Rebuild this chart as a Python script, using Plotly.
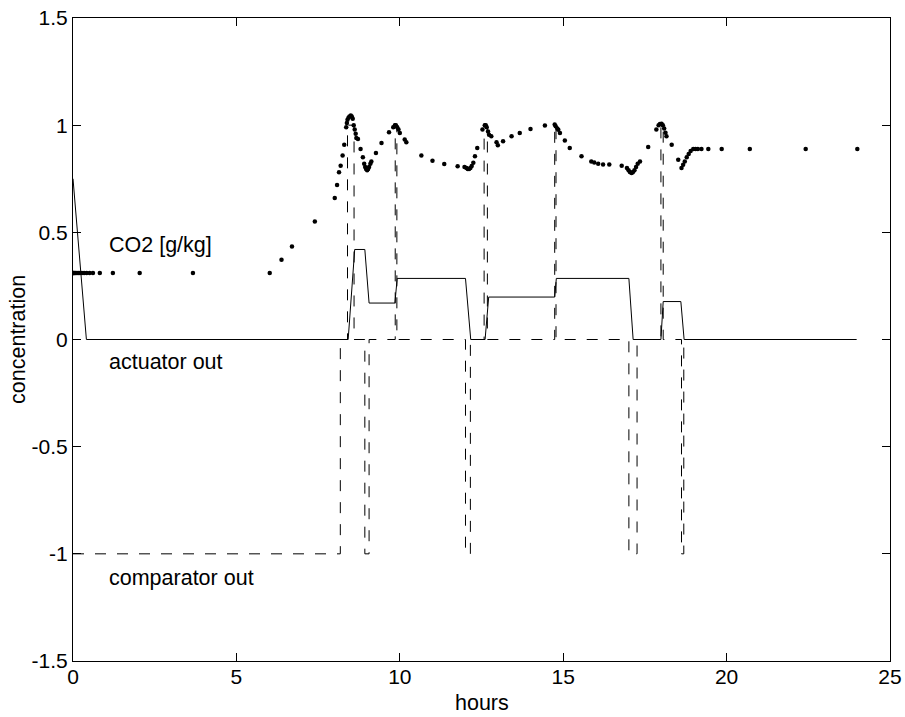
"""CO2 controller simulation: concentration, actuator and comparator output over a day."""

import plotly.graph_objects as go

# CO2 concentration samples [g/kg] (dotted trace)
co2_hours = [
    0.0, 0.02, 0.05, 0.08, 0.12, 0.16, 0.21, 0.27, 0.34, 0.42, 0.51, 0.61,
    0.82, 1.22, 2.04, 3.67, 6.02, 6.38, 6.70, 7.40, 8.01, 8.08, 8.14, 8.19,
    8.25, 8.30, 8.36, 8.38, 8.40, 8.43, 8.46, 8.50, 8.53, 8.56, 8.59, 8.62,
    8.65, 8.67, 8.72, 8.80, 8.87, 8.91, 8.94, 8.97, 9.00, 9.03, 9.06, 9.10,
    9.13, 9.27, 9.44, 9.67, 9.80, 9.85, 9.88, 9.92, 9.96, 10.00, 10.15, 10.20,
    10.66, 11.00, 11.36, 11.77, 11.98, 12.04, 12.08, 12.12, 12.16, 12.20, 12.25, 12.30,
    12.37, 12.53, 12.60, 12.63, 12.66, 12.70, 12.73, 12.80, 12.96, 13.00, 13.16, 13.42,
    13.67, 14.00, 14.44, 14.74, 14.77, 14.82, 14.85, 14.90, 15.05, 15.20, 15.56, 15.86,
    15.95, 16.07, 16.22, 16.41, 16.79, 16.95, 17.00, 17.04, 17.09, 17.13, 17.18, 17.23,
    17.28, 17.35, 17.60, 17.85, 17.92, 17.96, 18.01, 18.05, 18.09, 18.13, 18.16, 18.32,
    18.52, 18.62, 18.67, 18.72, 18.78, 18.84, 18.90, 18.98, 19.05, 19.12, 19.23, 19.44,
    19.85, 20.71, 22.42, 24.00,
]
co2_values = [
    0.31, 0.31, 0.31, 0.31, 0.31, 0.31, 0.31, 0.31, 0.31, 0.31, 0.31, 0.31,
    0.31, 0.31, 0.31, 0.31, 0.31, 0.372, 0.434, 0.551, 0.660, 0.721, 0.780, 0.811,
    0.859, 0.909, 0.99, 1.01, 1.025, 1.035, 1.04, 1.045, 1.04, 1.03, 1.00, 0.98,
    0.96, 0.94, 0.935, 0.889, 0.85, 0.82, 0.805, 0.795, 0.79, 0.795, 0.805, 0.82,
    0.83, 0.87, 0.917, 0.967, 0.99, 1.00, 1.00, 0.99, 0.98, 0.964, 0.933, 0.92,
    0.858, 0.834, 0.819, 0.808, 0.805, 0.80, 0.795, 0.795, 0.80, 0.81, 0.825, 0.855,
    0.894, 0.98, 1.00, 1.00, 0.99, 0.97, 0.955, 0.948, 0.92, 0.906, 0.925, 0.948,
    0.964, 0.982, 0.998, 1.003, 0.995, 0.985, 0.979, 0.964, 0.929, 0.894, 0.855, 0.83,
    0.826, 0.82, 0.816, 0.816, 0.811, 0.80, 0.79, 0.782, 0.777, 0.78, 0.79, 0.805,
    0.82, 0.831, 0.898, 0.98, 1.00, 1.005, 1.007, 1.00, 0.985, 0.965, 0.948, 0.909,
    0.839, 0.80, 0.815, 0.83, 0.85, 0.865, 0.88, 0.889, 0.889, 0.889, 0.889, 0.889,
    0.889, 0.889, 0.889, 0.889,
]

# actuator output (solid, piecewise linear)
act_hours = [0.0, 0.41, 8.42, 8.62, 8.93, 9.06, 9.85, 9.92, 12.01, 12.17, 12.61,
             12.72, 14.74, 14.79, 17.01, 17.14, 17.99, 18.06, 18.60, 18.70, 23.98]
act_values = [0.75, 0.0, 0.0, 0.42, 0.42, 0.17, 0.17, 0.285, 0.285, 0.0, 0.0,
              0.198, 0.198, 0.285, 0.285, 0.0, 0.0, 0.177, 0.177, 0.0, 0.0]

# comparator output (dashed, switching times and held levels)
comp_hours = [0.0, 8.18, 8.40, 8.60, 8.93, 9.06, 9.86, 9.91, 12.01, 12.16, 12.58,
              12.68, 14.74, 14.78, 17.01, 17.26, 17.99, 18.06, 18.62, 18.69, 24.0]
comp_values = [-1, 0, 1, 0, -1, 0, 1, 0, -1, 0, 1,
               0, 1, 0, -1, 0, 1, 0, -1, 0, 0]

x_ticks = [0, 5, 10, 15, 20, 25]
y_ticks = [-1.5, -1, -0.5, 0, 0.5, 1, 1.5]
y_ticktext = ["-1.5", "-1", "-0.5", "0", "0.5", "1", "1.5"]

# in-plot labels: (text, hour, concentration)
labels = [("CO2 [g/kg]", 1.03, 0.44), ("actuator out", 1.03, -0.107), ("comparator out", 1.03, -1.112)]

FONT = "Liberation Sans, Arial, sans-serif"

fig = go.Figure()

fig.add_trace(go.Scatter(x=comp_hours, y=comp_values, mode="lines", line_shape="hv",
                         line=dict(color="black", width=1, dash="11px,11px"), name="comparator out"))
fig.add_trace(go.Scatter(x=act_hours, y=act_values, mode="lines",
                         line=dict(color="black", width=1), name="actuator out"))
fig.add_trace(go.Scatter(x=co2_hours, y=co2_values, mode="markers",
                         marker=dict(color="black", size=4.5), name="CO2 [g/kg]"))

for text, hx, cy in labels:
    fig.add_annotation(x=hx, y=cy, text=text, showarrow=False, xanchor="left", yanchor="middle",
                       font=dict(family=FONT, size=21.5, color="black"))

# axis titles placed as annotations for exact positions
fig.add_annotation(xref="paper", yref="paper", x=0.5, y=-0.066, text="hours", showarrow=False,
                   xanchor="center", yanchor="middle", font=dict(family=FONT, size=21.5, color="black"))
fig.add_annotation(xref="paper", yref="paper", x=-0.068, y=0.5, text="concentration", showarrow=False,
                   textangle=-90, xanchor="center", yanchor="middle",
                   font=dict(family=FONT, size=21.5, color="black"))

axis_style = dict(showline=True, linecolor="black", linewidth=1, mirror="ticks", ticks="inside",
                  ticklen=8, tickcolor="black", tickwidth=1, showgrid=False, zeroline=False,
                  automargin=False, ticklabeloverflow="allow",
                  tickfont=dict(family=FONT, size=21, color="black"))

fig.update_xaxes(range=[0, 25], tickvals=x_ticks, ticklabelstandoff=-3, **axis_style)
fig.update_yaxes(range=[-1.5, 1.5], tickvals=y_ticks, ticktext=y_ticktext, **axis_style)

fig.update_layout(width=905, height=717, margin=dict(l=73, r=15, t=18, b=56),
                  paper_bgcolor="white", plot_bgcolor="white", showlegend=False,
                  font=dict(family=FONT, color="black"))

# drop the default 8px page margin so the figure fills the window exactly
fig.write_html("out.html", config={"displayModeBar": False},
               post_script="document.body.style.margin='0';document.body.style.overflow='hidden';")
